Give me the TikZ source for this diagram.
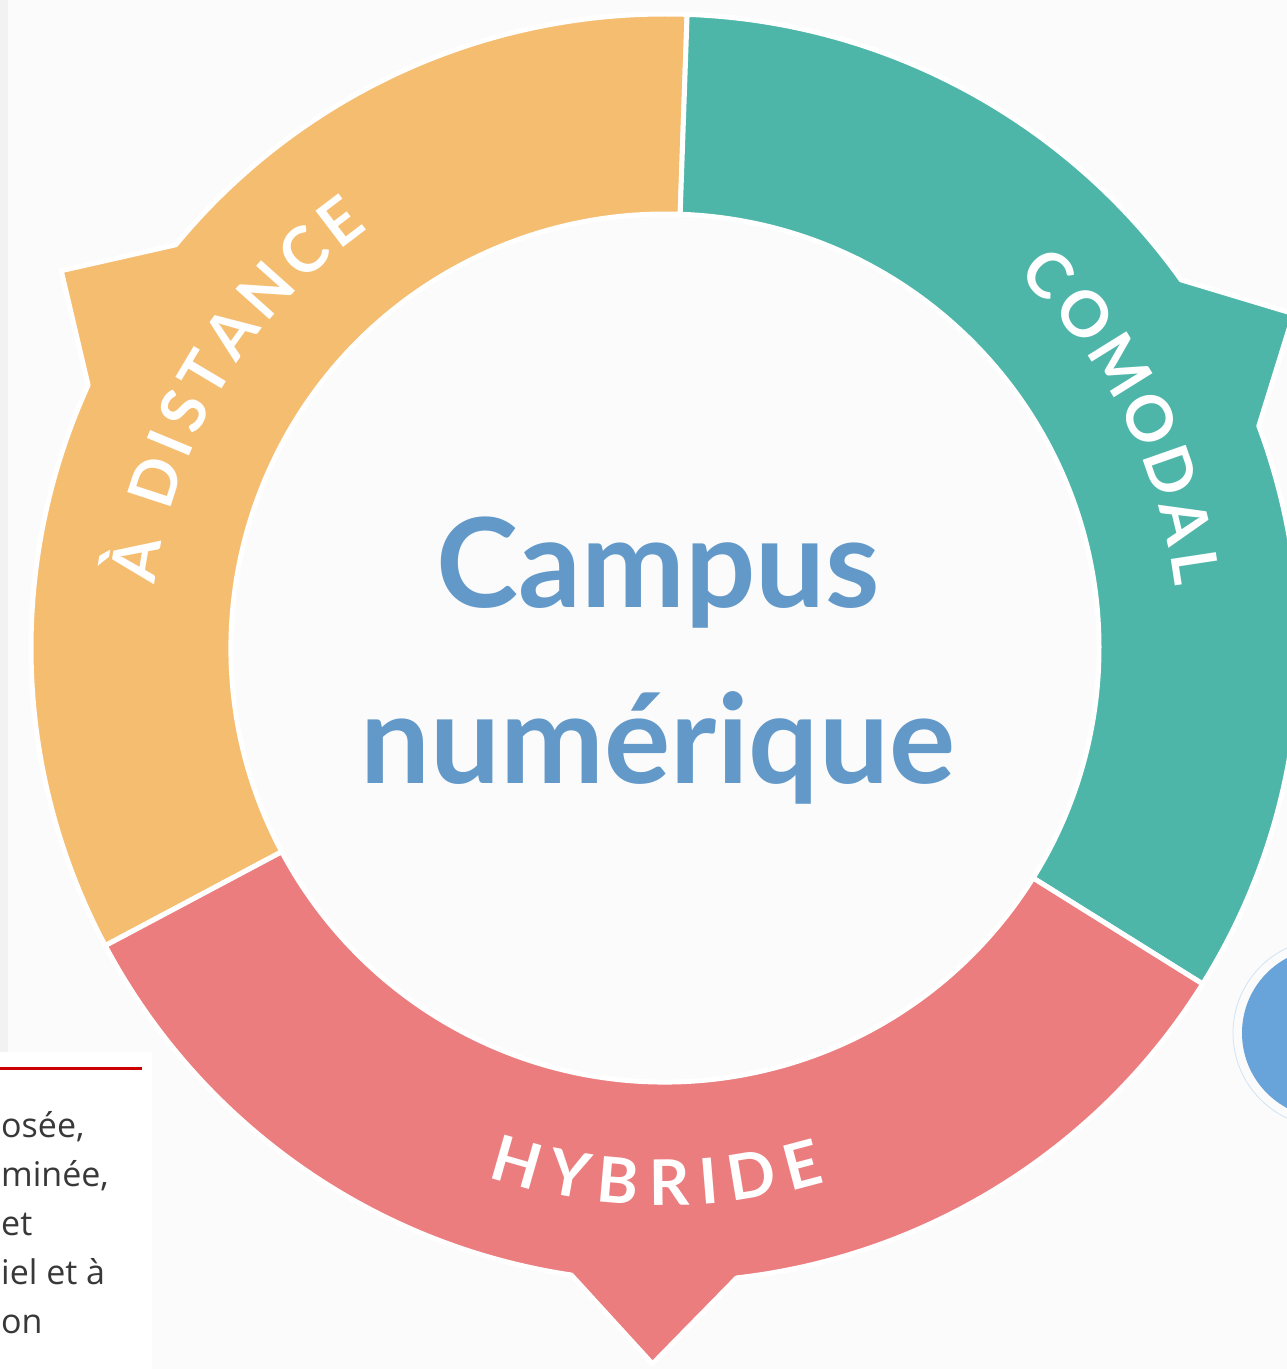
\documentclass[tikz,border=0pt]{standalone}
\usepackage{fontspec}
\setmainfont{Lato}
\newfontfamily\notefont{Open Sans}
\usepackage{tikz}

\definecolor{distorange}{HTML}{F5BD70}
\definecolor{comoteal}{HTML}{4DB6A9}
\definecolor{hybred}{HTML}{EC7D7F}
\definecolor{campusblue}{HTML}{6399C9}
\definecolor{dotblue}{HTML}{68A3DA}
\definecolor{pagebg}{HTML}{FBFBFB}
\definecolor{rulered}{HTML}{CC0000}

\begin{document}
\begin{tikzpicture}[
    x=1pt, y=1pt,
    segment/.style={draw=white, line width=5pt, line join=round},
    ringlabel/.style={text=white, inner sep=0pt, text height=45pt, text depth=0pt, font=\fontsize{63}{63}\selectfont\bfseries},
    title/.style={text=campusblue, inner sep=0pt, anchor=base, font=\fontsize{124}{124}\selectfont\bfseries},
    note/.style={text=black!78, inner sep=0pt, anchor=base west, font=\notefont\fontsize{34}{34}\selectfont}
]

% page
\useasboundingbox (-665,-721) rectangle (622,648);
\fill[pagebg] (-665,-721) rectangle (622,648);
\fill[black!5] (-665,-404) rectangle (-657,648);
\fill[white] (-665,-721) rectangle (-513,-404);

% A distance
\draw[segment, fill=distorange] (88:634) arc[start angle=88, end angle=140.5, radius=634]
    -- (148:712) -- (155.5:634) arc[start angle=155.5, end angle=208, radius=634]
    -- (208:434) arc[start angle=208, end angle=88, radius=434] -- cycle;

% Comodal
\draw[segment, fill=comoteal] (-32:634) arc[start angle=-32, end angle=20.5, radius=634]
    -- (28:712) -- (35.5:634) arc[start angle=35.5, end angle=88, radius=634]
    -- (88:434) arc[start angle=88, end angle=-32, radius=434] -- cycle;

% Hybride
\draw[segment, fill=hybred] (208:634) arc[start angle=208, end angle=261.5, radius=634]
    -- (269:716) -- (276.5:634) arc[start angle=276.5, end angle=328, radius=634]
    -- (328:434) arc[start angle=328, end angle=208, radius=434] -- cycle;

% ring labels
\foreach \ch/\a in {À/170.5, D/161.9, I/157.5, S/153.8, T/149.2, A/144.0, N/138.2, C/132.4, E/127.3}
    \node[ringlabel, rotate=\a-90] (dist-\ch) at (\a:536) {\ch};
\foreach \ch/\a [count=\i] in {C/44.3, O/38.5, M/31.9, O/25.3, D/19.3, A/13.65, L/8.7}
    \node[ringlabel, rotate=\a-90] (como-\i) at (\a:536) {\ch};
\foreach \ch/\a in {H/254.0, Y/259.7, B/265.0, R/270.45, I/274.75, D/279.35, E/284.85}
    \node[ringlabel, rotate=\a+90] (hyb-\ch) at (\a:535) {\ch};

% center
\node[title] (campus) at (-7,41) {Campus};
\node[title] (numerique) at (-7,-135) {numérique};

% side note
\draw[rulered, line width=3pt] (-665,-420) -- (-523,-420);
\node[note] (note1) at (-664,-489) {osée,};
\node[note] (note2) at (-664,-538) {minée,};
\node[note] (note3) at (-664,-587) {et};
\node[note] (note4) at (-664,-636) {iel et à};
\node[note] (note5) at (-664,-685) {on};

% blue dot
\draw[dotblue!30, line width=0.8pt] (662,-385) circle[radius=94];
\fill[dotblue] (662,-385) circle[radius=85];

\end{tikzpicture}
\end{document}
